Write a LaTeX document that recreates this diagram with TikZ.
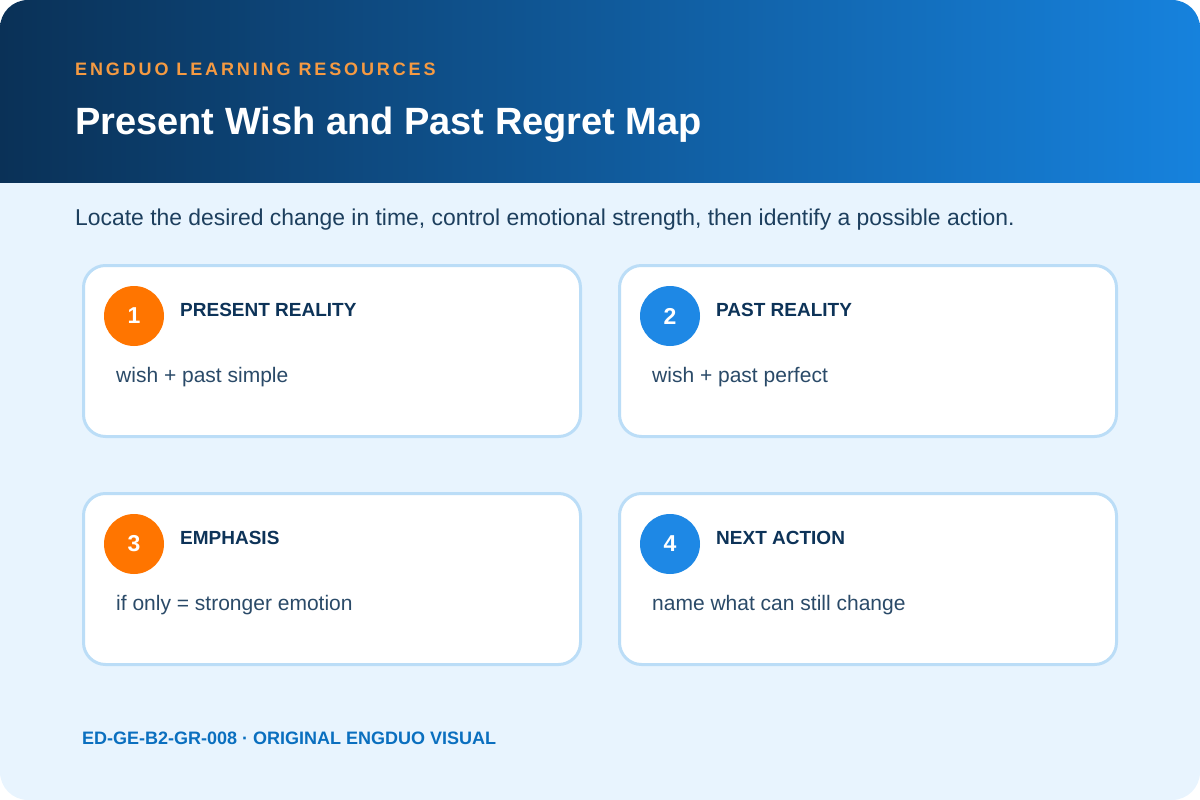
\documentclass[tikz,border=0pt]{standalone}
\usepackage{fontspec}
\setmainfont{Liberation Sans}
\newfontfamily\spacedbold[LetterSpace=16]{Liberation Sans}
\definecolor{headL}{HTML}{0A3157}
\definecolor{headR}{HTML}{1682DD}
\definecolor{bodybg}{HTML}{E8F4FE}
\definecolor{cardline}{HTML}{BBDDF7}
\definecolor{orangec}{HTML}{FF7500}
\definecolor{bluec}{HTML}{1E88E5}
\definecolor{labelor}{HTML}{F59A42}
\definecolor{navytxt}{HTML}{0D3358}
\definecolor{subtxt}{HTML}{1D3F5E}
\definecolor{bodytxt}{HTML}{2A4A68}
\definecolor{footblue}{HTML}{0A6FBF}
\tikzset{
  cardbox/.style={draw=cardline, line width=3pt, fill=white, rounded corners=22pt},
  numcirc/.style={circle, minimum size=60pt, inner sep=0pt, text=white, font=\bfseries\fontsize{23}{26}\selectfont},
  cardtitle/.style={anchor=base west, inner sep=0pt, text=navytxt, font=\bfseries\fontsize{19}{22}\selectfont},
  cardbody/.style={anchor=base west, inner sep=0pt, text=bodytxt, font=\fontsize{21}{24}\selectfont},
}
\begin{document}
\begin{tikzpicture}[x=1pt,y=-1pt]
\useasboundingbox (0,0) rectangle (1200,800);
\begin{scope}
  \clip[rounded corners=28pt] (0,0) rectangle (1200,800);
  \fill[bodybg] (0,0) rectangle (1200,800);
  \shade[left color=headL, right color=headR] (0,0) rectangle (1200,182);
\end{scope}
\node[anchor=base west, inner sep=0pt, text=labelor, font=\spacedbold\bfseries\fontsize{18}{22}\selectfont] (label) at (75,76) {ENGDUO LEARNING RESOURCES};
\node[anchor=base west, inner sep=0pt, text=white, font=\bfseries\fontsize{38}{44}\selectfont] (title) at (75,134) {Present Wish and Past Regret Map};
\node[anchor=base west, inner sep=0pt, text=subtxt, font=\fontsize{22.9}{27}\selectfont] (sub) at (75,225) {Locate the desired change in time, control emotional strength, then identify a possible action.};
% cards
\foreach \n/\x/\y/\c/\t/\b in {1/82/264/orangec/PRESENT REALITY/wish + past simple, 2/618/264/bluec/PAST REALITY/wish + past perfect, 3/82/492/orangec/EMPHASIS/if only = stronger emotion, 4/618/492/bluec/NEXT ACTION/name what can still change}{
  \draw[cardbox] (\x+1.5,\y+1.5) rectangle (\x+498.5,\y+172.5);
  \node[numcirc, fill=\c] (circ\n) at (\x+52,\y+52) {\n};
  \node[cardtitle] (ct\n) at (\x+98,\y+52) {\t};
  \node[cardbody] (cb\n) at (\x+34,\y+118) {\b};
}
\node[anchor=base west, inner sep=0pt, text=footblue, font=\bfseries\fontsize{18}{22}\selectfont] (foot) at (82,744) {ED-GE-B2-GR-008 · ORIGINAL ENGDUO VISUAL};
\end{tikzpicture}
\end{document}
